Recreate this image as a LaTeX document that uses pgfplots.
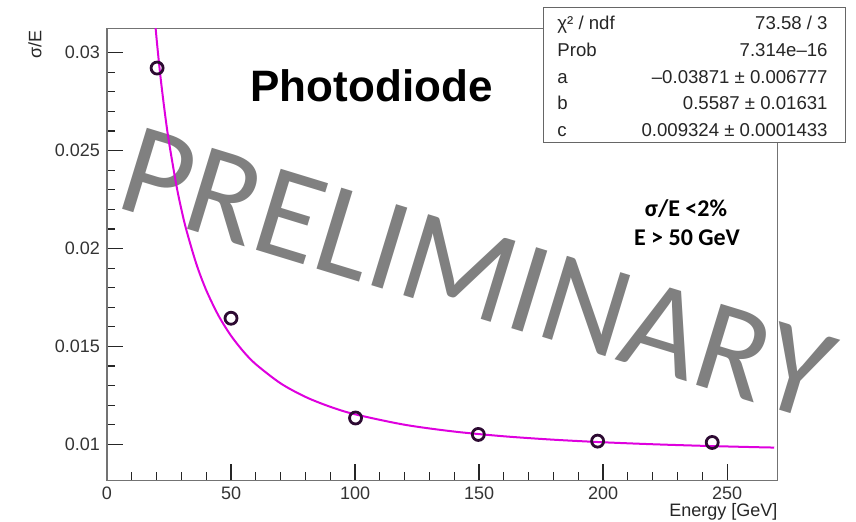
\documentclass[border=0pt]{standalone}
\usepackage{fontspec}
\setmainfont{Liberation Sans}
\newfontfamily\carlito{Carlito}
\usepackage{pgfplots}
\pgfplotsset{compat=1.18}
\definecolor{fitc}{RGB}{222,0,222}
\definecolor{markc}{RGB}{45,10,50}
\definecolor{wm}{RGB}{128,128,128}
\begin{document}
\begin{tikzpicture}
\path[use as bounding box] (-53.5pt,-20.85pt) rectangle (374.5pt,240.15pt);
% watermark (drawn first, so the plot lies on top)
\node[rotate=-17, text=wm, font=\carlito\fontsize{66}{66}\selectfont, inner sep=0]
  at (185pt,103.4pt) {PRELIMINARY};
\begin{axis}[
  at={(0,0)}, anchor=south west,
  scale only axis, width=335.35pt, height=226pt,
  xmin=0, xmax=270.4, ymin=0.00817, ymax=0.03124,
  xtick={0,50,100,150,200,250}, minor x tick num=4,
  ytick={0.01,0.015,0.02,0.025,0.03},
  yticklabels={0.01,0.015,0.02,0.025,0.03},
  minor y tick num=4,
  scaled ticks=false,
  tick align=inside,
  xtick pos=left, ytick pos=left,
  major tick length=8pt, minor tick length=4pt,
  axis line style={black!55, line width=0.6pt},
  tick style={black!85, line width=0.6pt},
  tick label style={font=\fontsize{9}{10}\selectfont, text=black!80},
  /pgf/number format/assume math mode=true,
  clip=true,
]
\addplot[fitc, line width=1pt, smooth] coordinates {
(19,0.032101)(20,0.030696)(21,0.029430)(22,0.028284)(23.5,0.026757)(25,0.025422)
(28,0.023208)(30,0.021993)(32,0.020943)(36,0.019220)(40,0.017874)(45,0.016564)
(50,0.015549)(55,0.014743)(60,0.014093)(70,0.013117)(80,0.012427)(90,0.011922)
(100,0.011538)(120,0.011005)(140,0.010657)(160,0.010416)(180,0.010242)
(200,0.010111)(220,0.010010)(240,0.0099298)(260,0.0098651)(269,0.0098397)};
\addplot[only marks, mark=o, mark size=3pt, mark options={line width=1.4pt, draw=markc}]
coordinates {(20.2,0.02921)(50,0.01644)(100.2,0.01135)(149.7,0.01051)(197.8,0.01017)(244,0.0101)};
\end{axis}
% axis labels
\node[rotate=90, anchor=east, inner sep=0, font=\fontsize{9}{10}\selectfont, text=black!85] at (-36pt,225.15pt) {σ/E};
\node[anchor=base east, inner sep=0, font=\fontsize{9}{10}\selectfont, text=black!85] at (335.35pt,-18.35pt) {Energy [GeV]};
% title texts
\node[anchor=base, inner sep=0, font=\fontsize{22}{24}\selectfont\bfseries] at (132.25pt,189.3pt) {Photodiode};
\node[anchor=base, inner sep=0, font=\carlito\fontsize{12}{14}\selectfont\bfseries] at (289.5pt,131.8pt) {σ/E <2\%};
\node[anchor=base, inner sep=0, font=\carlito\fontsize{12}{14}\selectfont\bfseries] at (290pt,117.3pt) {E > 50 GeV};
% stats box
\draw[black!60, line width=0.5pt, fill=white] (218pt,168.65pt) rectangle (369pt,236.15pt);
\begin{scope}[every node/.style={inner sep=0, font=\fontsize{9.3}{10}\selectfont, text=black!85}]
\node[anchor=base west] at (225pt,225.4pt) {χ² / ndf};
\node[anchor=base east] at (360.5pt,225.4pt) {73.58 / 3};
\node[anchor=base west] at (225pt,211.9pt) {Prob};
\node[anchor=base east] at (360.5pt,211.9pt) {7.314e–16};
\node[anchor=base west] at (225pt,198.4pt) {a};
\node[anchor=base east] at (360.5pt,198.4pt) {–0.03871 ± 0.006777};
\node[anchor=base west] at (225pt,185.15pt) {b};
\node[anchor=base east] at (360.5pt,185.15pt) {0.5587 ± 0.01631};
\node[anchor=base west] at (225pt,171.9pt) {c};
\node[anchor=base east] at (360.5pt,171.9pt) {0.009324 ± 0.0001433};
\end{scope}
\end{tikzpicture}
\end{document}
